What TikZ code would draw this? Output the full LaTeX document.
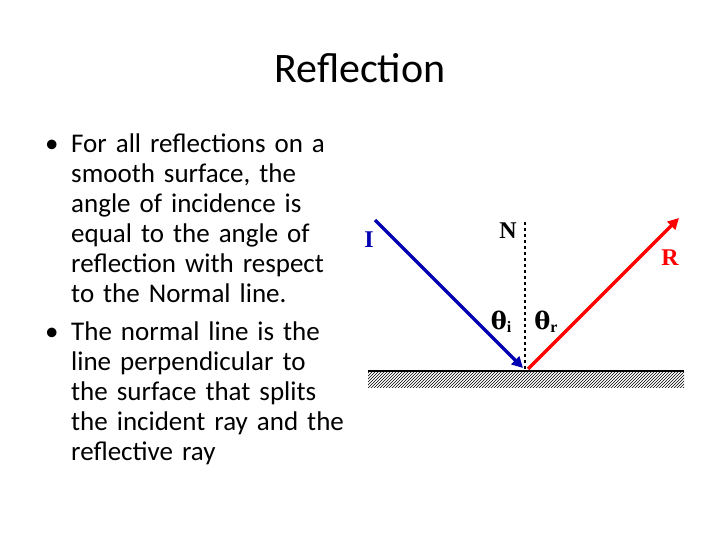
\documentclass[tikz,border=0pt]{standalone}
\usepackage{amsmath,bm}
\usepackage{fontspec}
\setmainfont{Carlito}
\newfontfamily\labfont{Liberation Serif}
\newfontfamily\grkfont{DejaVu Serif}
\usetikzlibrary{patterns,arrows.meta}
\begin{document}
\begin{tikzpicture}[x=1pt,y=-1pt,
  bul/.style={anchor=base west,inner sep=0pt,font=\fontsize{27}{30}\selectfont},
  lab/.style={inner sep=0pt,font=\labfont\bfseries\fontsize{24}{24}\selectfont},
  ray/.style={line width=3.2pt,-{Triangle[length=11pt,width=11pt]}}]
\useasboundingbox (0,0) rectangle (720,540);
\node[font=\fontsize{42}{48}\selectfont,inner sep=0pt] (title) at (360,68) {Reflection};
\node[bul] (b1) at (45,153) {•};
\node[bul,align=left,text width=320pt] (t1) at (71,153) {For all reflections on a\\smooth surface, the\\angle of incidence is\\equal to the angle of\\reflection with respect\\to the Normal line.};
\node[bul] (b2) at (45,340) {•};
\node[bul,align=left,text width=320pt] (t2) at (71,340) {The normal line is the\\line perpendicular to\\the surface that splits\\the incident ray and the\\reflective ray};
% diagram
\fill[pattern=north east lines] (368,372) rectangle (684,387);
\draw[line width=1.8pt] (368,371) -- (684,371);
\coordinate (ns) at (525,222);
\coordinate (nb) at (525,369);
\draw[dashed,line width=1.2pt] (ns) -- (nb);
\coordinate (is) at (375,220);
\coordinate (ie) at (523,368);
\draw[ray,blue!70!black] (is) -- (ie);
\coordinate (rs) at (528,369);
\coordinate (re) at (679,218);
\draw[ray,red] (rs) -- (re);
\node[lab,text=blue!70!black] (I) at (369,240) {I};
\node[lab] (N) at (508,231) {N};
\node[lab,text=red] (R) at (670,258) {R};
\node[lab] (ti) at (501,322) {{\grkfont\bfseries θ}\raisebox{-3pt}{\fontsize{16}{16}\selectfont i}};
\node[lab] (tr) at (546,322) {{\grkfont\bfseries θ}\raisebox{-3pt}{\fontsize{16}{16}\selectfont r}};
\end{tikzpicture}
\end{document}
